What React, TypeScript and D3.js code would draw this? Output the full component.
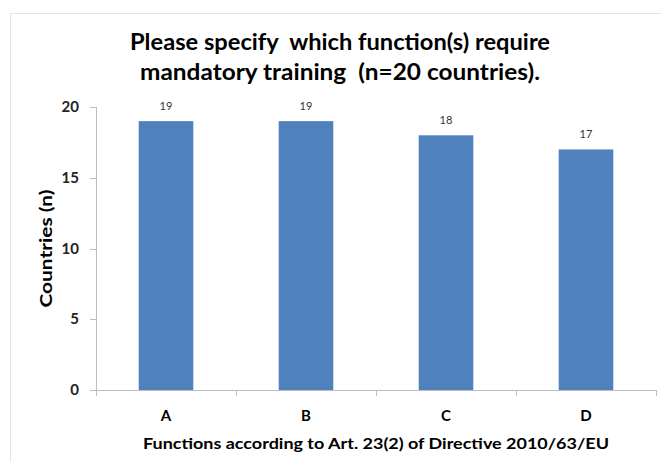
import * as d3 from "d3";

const categories = ["A", "B", "C", "D"];
const values = [19, 19, 18, 17];
const yTicks = [0, 5, 10, 15, 20];
const titleLines = ["Please specify  which function(s) require", "mandatory training  (n=20 countries)."];
const xTitle = "Functions according to Art. 23(2) of Directive 2010/63/EU";
const yTitle = "Countries (n)";

const W = 661, H = 462;
const font = "Lato, 'Open Sans', sans-serif";

export default function App() {
  const left = 96, right = 656, top = 107, bottom = 390;
  const x = d3.scaleBand<string>().domain(categories).range([left, right]).padding(0);
  const y = d3.scaleLinear().domain([0, 20]).range([bottom, top]);
  const barW = x.bandwidth() * 0.39;
  const edges = [...categories.map((c) => x(c)!), right];

  return (
    <svg width={W} height={H} style={{ position: "absolute", left: 0, top: 0 }}>
      <rect x={0} y={0} width={W} height={H} fill="#fff" />
      <rect x={10.5} y={13.5} width={W + 10} height={H + 10} fill="none" stroke="#e4e4e4" />
      {titleLines.map((t, i) => (
        <text key={i} x={340} y={50 + i * 30} textAnchor="middle" fontFamily={font}
          fontWeight="bold" fontSize={22} fill="#000" xmlSpace="preserve"
          textLength={i === 0 ? 420 : 400} lengthAdjust="spacingAndGlyphs">{t}</text>
      ))}
      {/* y axis */}
      <line x1={left + 0.5} x2={left + 0.5} y1={top} y2={bottom} stroke="#bdbdbd" />
      {yTicks.map((t) => (
        <g key={t}>
          <line x1={left - 6} x2={left} y1={Math.round(y(t)) + 0.5} y2={Math.round(y(t)) + 0.5} stroke="#bdbdbd" />
          <text x={79} y={y(t) + 5} textAnchor="end" fontFamily={font} fontWeight="bold"
            fontSize={15} fill="#222">{t}</text>
        </g>
      ))}
      <text transform={`translate(52,${(top + bottom) / 2}) rotate(-90)`} textAnchor="middle"
        fontFamily={font} fontWeight="bold" fontSize={17} fill="#000"
        textLength={118} lengthAdjust="spacingAndGlyphs">{yTitle}</text>
      {/* bars */}
      {categories.map((c, i) => {
        const cx = x(c)! + x.bandwidth() / 2;
        return (
          <g key={c}>
            <rect x={cx - barW / 2} y={y(values[i])} width={barW} height={bottom - y(values[i])} fill="#4f81bd" />
            <text x={cx} y={y(values[i]) - 11} textAnchor="middle" fontFamily={font}
              fontSize={11} fill="#333">{values[i]}</text>
            <text x={cx} y={421} textAnchor="middle" fontFamily={font} fontWeight="bold"
              fontSize={15} fill="#000">{c}</text>
          </g>
        );
      })}
      {/* x axis */}
      <line x1={left} x2={right} y1={bottom + 0.5} y2={bottom + 0.5} stroke="#bdbdbd" />
      {edges.map((e, i) => (
        <line key={i} x1={Math.round(e) + 0.5} x2={Math.round(e) + 0.5} y1={bottom} y2={bottom + 6} stroke="#bdbdbd" />
      ))}
      <text x={376} y={449} textAnchor="middle" fontFamily={font} fontWeight="bold"
        fontSize={16} fill="#000" textLength={466} lengthAdjust="spacingAndGlyphs">{xTitle}</text>
    </svg>
  );
}
